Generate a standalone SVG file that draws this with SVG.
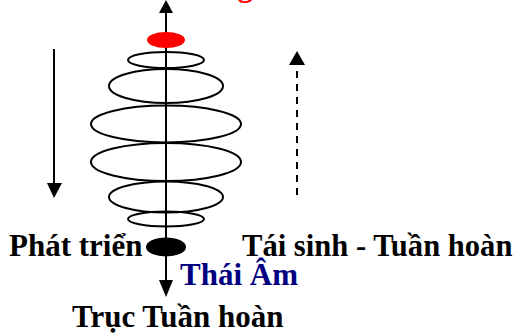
<svg xmlns="http://www.w3.org/2000/svg" width="521" height="336" viewBox="0 0 521 336">
  <style>
    .ring { fill: none; stroke: #000; stroke-width: 2; }
    .axis { stroke: #000; stroke-width: 2; fill: none; }
    .dash { stroke: #000; stroke-width: 2; stroke-dasharray: 7 6; fill: none; }
    .head { fill: #000; stroke: none; }
    .lbl { font-family: "Liberation Serif", "Times New Roman", serif; font-size: 31px; font-weight: bold; fill: #000; }
  </style>
  <rect width="521" height="336" fill="#fff"/>

  <!-- connectors: central axis and side flow arrows -->
  <g id="connectors">
    <line class="axis" x1="166" y1="12" x2="166" y2="282"/>
    <polygon class="head" points="166,0 159,13 173,13"/>
    <polygon class="head" points="166,297 159,280 173,280"/>
    <line class="axis" x1="54" y1="49" x2="54" y2="184"/>
    <polygon class="head" points="54,198 47,183 62,183"/>
    <line class="dash" x1="297" y1="71" x2="297" y2="200"/>
    <polygon class="head" points="297,51 289,65 305,65"/>
  </g>

  <!-- nodes: poles and rings of the spiral -->
  <g id="pole-top"><ellipse cx="166" cy="40" rx="19" ry="8" fill="#f00"/></g>
  <g id="ring-1"><ellipse class="ring" cx="166" cy="60" rx="38" ry="8"/></g>
  <g id="ring-2"><ellipse class="ring" cx="166" cy="86" rx="57" ry="17"/></g>
  <g id="ring-3"><ellipse class="ring" cx="166" cy="124" rx="75" ry="18.5"/></g>
  <g id="ring-4"><ellipse class="ring" cx="166" cy="162" rx="75" ry="19"/></g>
  <g id="ring-5"><ellipse class="ring" cx="166" cy="197" rx="57" ry="15.5"/></g>
  <g id="ring-6"><ellipse class="ring" cx="166" cy="219" rx="38" ry="7.5"/></g>
  <g id="pole-bottom"><ellipse cx="166" cy="247" rx="20" ry="9.5" fill="#000"/></g>

  <!-- labels -->
  <g id="label-top"><text class="lbl" x="253" y="-4" text-anchor="end" style="fill:#f00">Thái Dương</text></g>
  <g id="label-left"><text class="lbl" x="9" y="256">Phát triển</text></g>
  <g id="label-right"><text class="lbl" x="242" y="256" style="font-size:30.6px">Tái sinh - Tuần hoàn</text></g>
  <g id="label-yin"><text class="lbl" x="180" y="285" style="fill:#000080">Thái Âm</text></g>
  <g id="label-axis"><text class="lbl" x="72" y="327">Trục Tuần hoàn</text></g>
</svg>
